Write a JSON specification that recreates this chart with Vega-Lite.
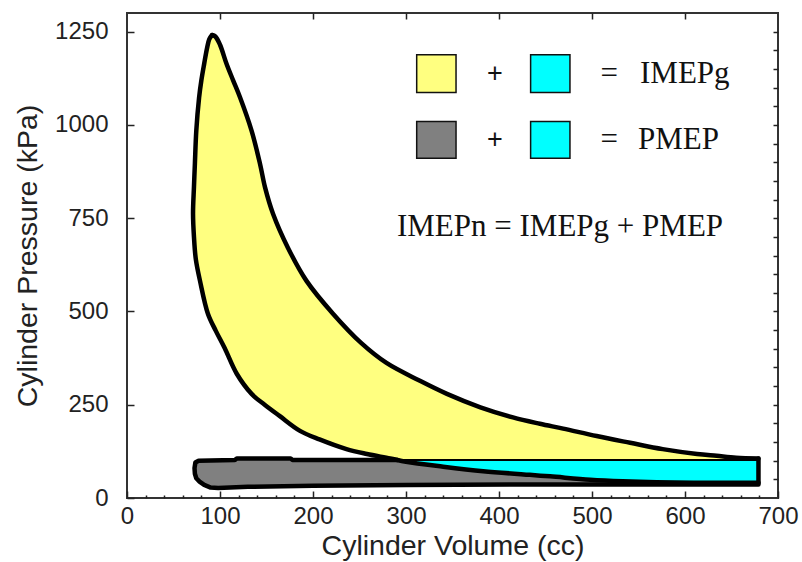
{
  "$schema": "https://vega.github.io/schema/vega-lite/v6.json",
  "width": 651,
  "height": 485,
  "autosize": {"type": "none"},
  "padding": {"left": 127, "top": 13, "right": 24, "bottom": 64},
  "background": "white",
  "config": {
    "view": {"stroke": "#333", "strokeWidth": 2},
    "axis": {"grid": false, "domain": false, "labelColor": "#222", "titleColor": "#222", "tickColor": "#222", "tickWidth": 1.5}
  },
  "datasets": {
    "regions": [
      {"region": "gross", "i": 0, "v": 91.5, "p": 1241},
      {"region": "gross", "i": 1, "v": 95, "p": 1237},
      {"region": "gross", "i": 2, "v": 100, "p": 1215},
      {"region": "gross", "i": 3, "v": 107, "p": 1164},
      {"region": "gross", "i": 4, "v": 114, "p": 1120},
      {"region": "gross", "i": 5, "v": 121.5, "p": 1074},
      {"region": "gross", "i": 6, "v": 134, "p": 984},
      {"region": "gross", "i": 7, "v": 143, "p": 896},
      {"region": "gross", "i": 8, "v": 148.5, "p": 832},
      {"region": "gross", "i": 9, "v": 157, "p": 762},
      {"region": "gross", "i": 10, "v": 173, "p": 671},
      {"region": "gross", "i": 11, "v": 193, "p": 582},
      {"region": "gross", "i": 12, "v": 221.5, "p": 494},
      {"region": "gross", "i": 13, "v": 252, "p": 415},
      {"region": "gross", "i": 14, "v": 279, "p": 362},
      {"region": "gross", "i": 15, "v": 315, "p": 314},
      {"region": "gross", "i": 16, "v": 344, "p": 279},
      {"region": "gross", "i": 17, "v": 380, "p": 243},
      {"region": "gross", "i": 18, "v": 415, "p": 216},
      {"region": "gross", "i": 19, "v": 444, "p": 199},
      {"region": "gross", "i": 20, "v": 469, "p": 186},
      {"region": "gross", "i": 21, "v": 505, "p": 166},
      {"region": "gross", "i": 22, "v": 541, "p": 148},
      {"region": "gross", "i": 23, "v": 576, "p": 131},
      {"region": "gross", "i": 24, "v": 613, "p": 118},
      {"region": "gross", "i": 25, "v": 634, "p": 113},
      {"region": "gross", "i": 26, "v": 655, "p": 108},
      {"region": "gross", "i": 27, "v": 679, "p": 106},
      {"region": "gross", "i": 28, "v": 679, "p": 102},
      {"region": "gross", "i": 29, "v": 291, "p": 102},
      {"region": "gross", "i": 30, "v": 283, "p": 106},
      {"region": "gross", "i": 31, "v": 258, "p": 118},
      {"region": "gross", "i": 32, "v": 236, "p": 131},
      {"region": "gross", "i": 33, "v": 207, "p": 157},
      {"region": "gross", "i": 34, "v": 186, "p": 180},
      {"region": "gross", "i": 35, "v": 164, "p": 220},
      {"region": "gross", "i": 36, "v": 148, "p": 250},
      {"region": "gross", "i": 37, "v": 134, "p": 279},
      {"region": "gross", "i": 38, "v": 118, "p": 333},
      {"region": "gross", "i": 39, "v": 105, "p": 402},
      {"region": "gross", "i": 40, "v": 95.5, "p": 448},
      {"region": "gross", "i": 41, "v": 87, "p": 494},
      {"region": "gross", "i": 42, "v": 78.5, "p": 582},
      {"region": "gross", "i": 43, "v": 74, "p": 640},
      {"region": "gross", "i": 44, "v": 72, "p": 700},
      {"region": "gross", "i": 45, "v": 71, "p": 762},
      {"region": "gross", "i": 46, "v": 72, "p": 834},
      {"region": "gross", "i": 47, "v": 73, "p": 896},
      {"region": "gross", "i": 48, "v": 74.5, "p": 984},
      {"region": "gross", "i": 49, "v": 77.5, "p": 1073},
      {"region": "gross", "i": 50, "v": 80, "p": 1120},
      {"region": "gross", "i": 51, "v": 83, "p": 1164},
      {"region": "gross", "i": 52, "v": 86, "p": 1205},
      {"region": "gross", "i": 53, "v": 88.5, "p": 1230},

      {"region": "overlap", "i": 0, "v": 679, "p": 102},
      {"region": "overlap", "i": 1, "v": 291, "p": 102},
      {"region": "overlap", "i": 2, "v": 300, "p": 97},
      {"region": "overlap", "i": 3, "v": 340, "p": 84},
      {"region": "overlap", "i": 4, "v": 383, "p": 72},
      {"region": "overlap", "i": 5, "v": 433, "p": 62},
      {"region": "overlap", "i": 6, "v": 455, "p": 58},
      {"region": "overlap", "i": 7, "v": 498, "p": 49},
      {"region": "overlap", "i": 8, "v": 533, "p": 45},
      {"region": "overlap", "i": 9, "v": 609, "p": 41},
      {"region": "overlap", "i": 10, "v": 679, "p": 41},

      {"region": "pumping", "i": 0, "v": 291, "p": 102},
      {"region": "pumping", "i": 1, "v": 178, "p": 102},
      {"region": "pumping", "i": 2, "v": 176, "p": 106},
      {"region": "pumping", "i": 3, "v": 118, "p": 106},
      {"region": "pumping", "i": 4, "v": 116, "p": 102},
      {"region": "pumping", "i": 5, "v": 77, "p": 100},
      {"region": "pumping", "i": 6, "v": 73.5, "p": 95},
      {"region": "pumping", "i": 7, "v": 72.6, "p": 80},
      {"region": "pumping", "i": 8, "v": 73, "p": 65},
      {"region": "pumping", "i": 9, "v": 74.5, "p": 53},
      {"region": "pumping", "i": 10, "v": 78, "p": 44},
      {"region": "pumping", "i": 11, "v": 83, "p": 35},
      {"region": "pumping", "i": 12, "v": 90, "p": 28},
      {"region": "pumping", "i": 13, "v": 98, "p": 27},
      {"region": "pumping", "i": 14, "v": 130, "p": 30},
      {"region": "pumping", "i": 15, "v": 200, "p": 33},
      {"region": "pumping", "i": 16, "v": 300, "p": 35},
      {"region": "pumping", "i": 17, "v": 420, "p": 36},
      {"region": "pumping", "i": 18, "v": 540, "p": 36},
      {"region": "pumping", "i": 19, "v": 679, "p": 36},
      {"region": "pumping", "i": 20, "v": 679, "p": 41},
      {"region": "pumping", "i": 21, "v": 609, "p": 41},
      {"region": "pumping", "i": 22, "v": 533, "p": 45},
      {"region": "pumping", "i": 23, "v": 498, "p": 49},
      {"region": "pumping", "i": 24, "v": 455, "p": 58},
      {"region": "pumping", "i": 25, "v": 433, "p": 62},
      {"region": "pumping", "i": 26, "v": 383, "p": 72},
      {"region": "pumping", "i": 27, "v": 340, "p": 84},
      {"region": "pumping", "i": 28, "v": 300, "p": 97}
    ],
    "strokes": [
      {"stroke": "expansion", "i": 0, "v": 91.5, "p": 1241},
      {"stroke": "expansion", "i": 1, "v": 95, "p": 1237},
      {"stroke": "expansion", "i": 2, "v": 100, "p": 1215},
      {"stroke": "expansion", "i": 3, "v": 107, "p": 1164},
      {"stroke": "expansion", "i": 4, "v": 114, "p": 1120},
      {"stroke": "expansion", "i": 5, "v": 121.5, "p": 1074},
      {"stroke": "expansion", "i": 6, "v": 134, "p": 984},
      {"stroke": "expansion", "i": 7, "v": 143, "p": 896},
      {"stroke": "expansion", "i": 8, "v": 148.5, "p": 832},
      {"stroke": "expansion", "i": 9, "v": 157, "p": 762},
      {"stroke": "expansion", "i": 10, "v": 173, "p": 671},
      {"stroke": "expansion", "i": 11, "v": 193, "p": 582},
      {"stroke": "expansion", "i": 12, "v": 221.5, "p": 494},
      {"stroke": "expansion", "i": 13, "v": 252, "p": 415},
      {"stroke": "expansion", "i": 14, "v": 279, "p": 362},
      {"stroke": "expansion", "i": 15, "v": 315, "p": 314},
      {"stroke": "expansion", "i": 16, "v": 344, "p": 279},
      {"stroke": "expansion", "i": 17, "v": 380, "p": 243},
      {"stroke": "expansion", "i": 18, "v": 415, "p": 216},
      {"stroke": "expansion", "i": 19, "v": 444, "p": 199},
      {"stroke": "expansion", "i": 20, "v": 469, "p": 186},
      {"stroke": "expansion", "i": 21, "v": 505, "p": 166},
      {"stroke": "expansion", "i": 22, "v": 541, "p": 148},
      {"stroke": "expansion", "i": 23, "v": 576, "p": 131},
      {"stroke": "expansion", "i": 24, "v": 613, "p": 118},
      {"stroke": "expansion", "i": 25, "v": 634, "p": 113},
      {"stroke": "expansion", "i": 26, "v": 655, "p": 108},
      {"stroke": "expansion", "i": 27, "v": 679, "p": 106},

      {"stroke": "compression", "i": 0, "v": 679, "p": 41},
      {"stroke": "compression", "i": 1, "v": 609, "p": 41},
      {"stroke": "compression", "i": 2, "v": 533, "p": 45},
      {"stroke": "compression", "i": 3, "v": 498, "p": 49},
      {"stroke": "compression", "i": 4, "v": 455, "p": 58},
      {"stroke": "compression", "i": 5, "v": 433, "p": 62},
      {"stroke": "compression", "i": 6, "v": 383, "p": 72},
      {"stroke": "compression", "i": 7, "v": 340, "p": 84},
      {"stroke": "compression", "i": 8, "v": 300, "p": 97},
      {"stroke": "compression", "i": 9, "v": 283, "p": 106},
      {"stroke": "compression", "i": 10, "v": 258, "p": 118},
      {"stroke": "compression", "i": 11, "v": 236, "p": 131},
      {"stroke": "compression", "i": 12, "v": 207, "p": 157},
      {"stroke": "compression", "i": 13, "v": 186, "p": 180},
      {"stroke": "compression", "i": 14, "v": 164, "p": 220},
      {"stroke": "compression", "i": 15, "v": 148, "p": 250},
      {"stroke": "compression", "i": 16, "v": 134, "p": 279},
      {"stroke": "compression", "i": 17, "v": 118, "p": 333},
      {"stroke": "compression", "i": 18, "v": 105, "p": 402},
      {"stroke": "compression", "i": 19, "v": 95.5, "p": 448},
      {"stroke": "compression", "i": 20, "v": 87, "p": 494},
      {"stroke": "compression", "i": 21, "v": 78.5, "p": 582},
      {"stroke": "compression", "i": 22, "v": 74, "p": 640},
      {"stroke": "compression", "i": 23, "v": 72, "p": 700},
      {"stroke": "compression", "i": 24, "v": 71, "p": 762},
      {"stroke": "compression", "i": 25, "v": 72, "p": 834},
      {"stroke": "compression", "i": 26, "v": 73, "p": 896},
      {"stroke": "compression", "i": 27, "v": 74.5, "p": 984},
      {"stroke": "compression", "i": 28, "v": 77.5, "p": 1073},
      {"stroke": "compression", "i": 29, "v": 80, "p": 1120},
      {"stroke": "compression", "i": 30, "v": 83, "p": 1164},
      {"stroke": "compression", "i": 31, "v": 86, "p": 1205},
      {"stroke": "compression", "i": 32, "v": 88.5, "p": 1230},
      {"stroke": "compression", "i": 33, "v": 91.5, "p": 1241},

      {"stroke": "exhaust-intake", "i": 0, "v": 291, "p": 102},
      {"stroke": "exhaust-intake", "i": 1, "v": 178, "p": 102},
      {"stroke": "exhaust-intake", "i": 2, "v": 176, "p": 106},
      {"stroke": "exhaust-intake", "i": 3, "v": 118, "p": 106},
      {"stroke": "exhaust-intake", "i": 4, "v": 116, "p": 102},
      {"stroke": "exhaust-intake", "i": 5, "v": 77, "p": 100},
      {"stroke": "exhaust-intake", "i": 6, "v": 73.5, "p": 95},
      {"stroke": "exhaust-intake", "i": 7, "v": 72.6, "p": 80},
      {"stroke": "exhaust-intake", "i": 8, "v": 73, "p": 65},
      {"stroke": "exhaust-intake", "i": 9, "v": 74.5, "p": 53},
      {"stroke": "exhaust-intake", "i": 10, "v": 78, "p": 44},
      {"stroke": "exhaust-intake", "i": 11, "v": 83, "p": 35},
      {"stroke": "exhaust-intake", "i": 12, "v": 90, "p": 28},
      {"stroke": "exhaust-intake", "i": 13, "v": 98, "p": 27},
      {"stroke": "exhaust-intake", "i": 14, "v": 130, "p": 30},
      {"stroke": "exhaust-intake", "i": 15, "v": 200, "p": 33},
      {"stroke": "exhaust-intake", "i": 16, "v": 300, "p": 35},
      {"stroke": "exhaust-intake", "i": 17, "v": 420, "p": 36},
      {"stroke": "exhaust-intake", "i": 18, "v": 540, "p": 36},
      {"stroke": "exhaust-intake", "i": 19, "v": 679, "p": 36},
      {"stroke": "exhaust-intake", "i": 20, "v": 679, "p": 106},

      {"stroke": "exhaust-upper", "i": 0, "v": 679, "p": 102},
      {"stroke": "exhaust-upper", "i": 1, "v": 291, "p": 102}
    ],
    "swatches": [
      {"key": "gross", "v0": 311.5, "v1": 353.8, "p0": 1087, "p1": 1188},
      {"key": "overlap", "v0": 434, "v1": 476.3, "p0": 1087, "p1": 1188},
      {"key": "pumping", "v0": 311.5, "v1": 353.8, "p0": 911, "p1": 1009},
      {"key": "overlap", "v0": 434, "v1": 476.3, "p0": 911, "p1": 1009}
    ],
    "plusSigns": [
      {"t": "+", "v": 395.7, "p": 1137},
      {"t": "+", "v": 395.7, "p": 960}
    ],
    "equations": [
      {"t": "=", "v": 518.5, "p": 1137, "align": "center"},
      {"t": "=", "v": 518.5, "p": 960, "align": "center"},
      {"t": "IMEPg", "v": 551.6, "p": 1137, "align": "left"},
      {"t": "PMEP", "v": 549.5, "p": 960, "align": "left"},
      {"t": "IMEPn = IMEPg + PMEP", "v": 465.6, "p": 727, "align": "center"}
    ]
  },
  "resolve": {"axis": {"x": "independent", "y": "independent"}},
  "layer": [
    {
      "data": {"name": "regions"},
      "transform": [{"filter": "datum.region === 'gross'"}],
      "mark": {"type": "line", "fill": "#ffff80", "strokeOpacity": 0, "strokeWidth": 0},
      "encoding": {
        "x": {
          "field": "v", "type": "quantitative",
          "scale": {"domain": [0, 700], "nice": false, "zero": false},
          "axis": {
            "orient": "bottom",
            "values": [0, 20, 40, 60, 80, 100, 120, 140, 160, 180, 200, 220, 240, 260, 280, 300, 320, 340, 360, 380, 400, 420, 440, 460, 480, 500, 520, 540, 560, 580, 600, 620, 640, 660, 680, 700],
            "labelExpr": "datum.value % 100 === 0 ? datum.label : ''",
            "labelOverlap": false,
            "labelFlush": false,
            "tickSize": {"condition": {"test": "datum.value % 100 === 0", "value": -7}, "value": -3},
            "labelFont": "Liberation Sans", "labelFontSize": 24, "labelPadding": 13,
            "title": "Cylinder Volume (cc)",
            "titleFont": "Liberation Sans", "titleFontSize": 28.5, "titleFontWeight": "normal", "titlePadding": -1
          }
        },
        "y": {
          "field": "p", "type": "quantitative",
          "scale": {"domain": [0, 1300], "nice": false, "zero": false},
          "axis": {
            "orient": "left",
            "values": [0, 250, 500, 750, 1000, 1250],
            "format": "d",
            "tickSize": -7,
            "labelFlush": false,
            "labelFont": "Liberation Sans", "labelFontSize": 24, "labelPadding": 26,
            "title": "Cylinder Pressure (kPa)",
            "titleFont": "Liberation Sans", "titleFontSize": 28.5, "titleFontWeight": "normal", "titlePadding": 12
          }
        },
        "order": {"field": "i", "type": "quantitative"}
      }
    },
    {
      "data": {"name": "regions"},
      "transform": [{"filter": "datum.region === 'overlap'"}],
      "mark": {"type": "line", "fill": "#00ffff", "strokeOpacity": 0, "strokeWidth": 0},
      "encoding": {
        "x": {
          "field": "v", "type": "quantitative",
          "axis": {"orient": "top", "values": [100, 200, 300, 400, 500, 600], "tickSize": -6, "labels": false, "title": null}
        },
        "y": {
          "field": "p", "type": "quantitative",
          "axis": {"orient": "right", "values": [50, 100, 150, 200, 250, 300, 350, 400, 450, 500, 550, 600, 650, 700, 750, 800, 850, 900, 950, 1000, 1050, 1100, 1150, 1200, 1250], "tickSize": -5, "labels": false, "title": null}
        },
        "order": {"field": "i", "type": "quantitative"}
      }
    },
    {
      "data": {"name": "regions"},
      "transform": [{"filter": "datum.region === 'pumping'"}],
      "mark": {"type": "line", "fill": "#808080", "strokeOpacity": 0, "strokeWidth": 0},
      "encoding": {
        "x": {"field": "v", "type": "quantitative", "axis": null},
        "y": {"field": "p", "type": "quantitative", "axis": null},
        "order": {"field": "i", "type": "quantitative"}
      }
    },
    {
      "data": {"name": "strokes"},
      "transform": [{"filter": "datum.stroke === 'exhaust-upper'"}],
      "mark": {"type": "line", "color": "black", "strokeWidth": 2},
      "encoding": {
        "x": {"field": "v", "type": "quantitative", "axis": null},
        "y": {"field": "p", "type": "quantitative", "axis": null},
        "order": {"field": "i", "type": "quantitative"}
      }
    },
    {
      "data": {"name": "strokes"},
      "transform": [{"filter": "datum.stroke === 'expansion' || datum.stroke === 'compression'"}],
      "mark": {"type": "line", "color": "black", "strokeWidth": 4.5, "strokeJoin": "round", "strokeCap": "round", "interpolate": "catmull-rom"},
      "encoding": {
        "x": {"field": "v", "type": "quantitative", "axis": null},
        "y": {"field": "p", "type": "quantitative", "axis": null},
        "detail": {"field": "stroke"},
        "order": {"field": "i", "type": "quantitative"}
      }
    },
    {
      "data": {"name": "strokes"},
      "transform": [{"filter": "datum.stroke === 'exhaust-intake'"}],
      "mark": {"type": "line", "color": "black", "strokeWidth": 4.5, "strokeJoin": "round", "strokeCap": "round"},
      "encoding": {
        "x": {"field": "v", "type": "quantitative", "axis": null},
        "y": {"field": "p", "type": "quantitative", "axis": null},
        "order": {"field": "i", "type": "quantitative"}
      }
    },
    {
      "data": {"name": "swatches"},
      "mark": {"type": "rect", "stroke": "#111", "strokeWidth": 1.5},
      "encoding": {
        "x": {"field": "v0", "type": "quantitative", "axis": null},
        "x2": {"field": "v1"},
        "y": {"field": "p0", "type": "quantitative", "axis": null},
        "y2": {"field": "p1"},
        "fill": {
          "field": "key", "type": "nominal", "legend": null,
          "scale": {"domain": ["gross", "overlap", "pumping"], "range": ["#ffff80", "#00ffff", "#808080"]}
        }
      }
    },
    {
      "data": {"name": "plusSigns"},
      "mark": {"type": "text", "font": "Liberation Sans", "fontSize": 27, "color": "#111", "align": "center", "baseline": "middle"},
      "encoding": {
        "x": {"field": "v", "type": "quantitative", "axis": null},
        "y": {"field": "p", "type": "quantitative", "axis": null},
        "text": {"field": "t"}
      }
    },
    {
      "data": {"name": "equations"},
      "transform": [{"filter": "datum.align === 'center'"}],
      "mark": {"type": "text", "font": "Liberation Serif", "fontSize": 31, "color": "#111", "align": "center", "baseline": "middle"},
      "encoding": {
        "x": {"field": "v", "type": "quantitative", "axis": null},
        "y": {"field": "p", "type": "quantitative", "axis": null},
        "text": {"field": "t"}
      }
    },
    {
      "data": {"name": "equations"},
      "transform": [{"filter": "datum.align === 'left'"}],
      "mark": {"type": "text", "font": "Liberation Serif", "fontSize": 31, "color": "#111", "align": "left", "baseline": "middle"},
      "encoding": {
        "x": {"field": "v", "type": "quantitative", "axis": null},
        "y": {"field": "p", "type": "quantitative", "axis": null},
        "text": {"field": "t"}
      }
    }
  ]
}
